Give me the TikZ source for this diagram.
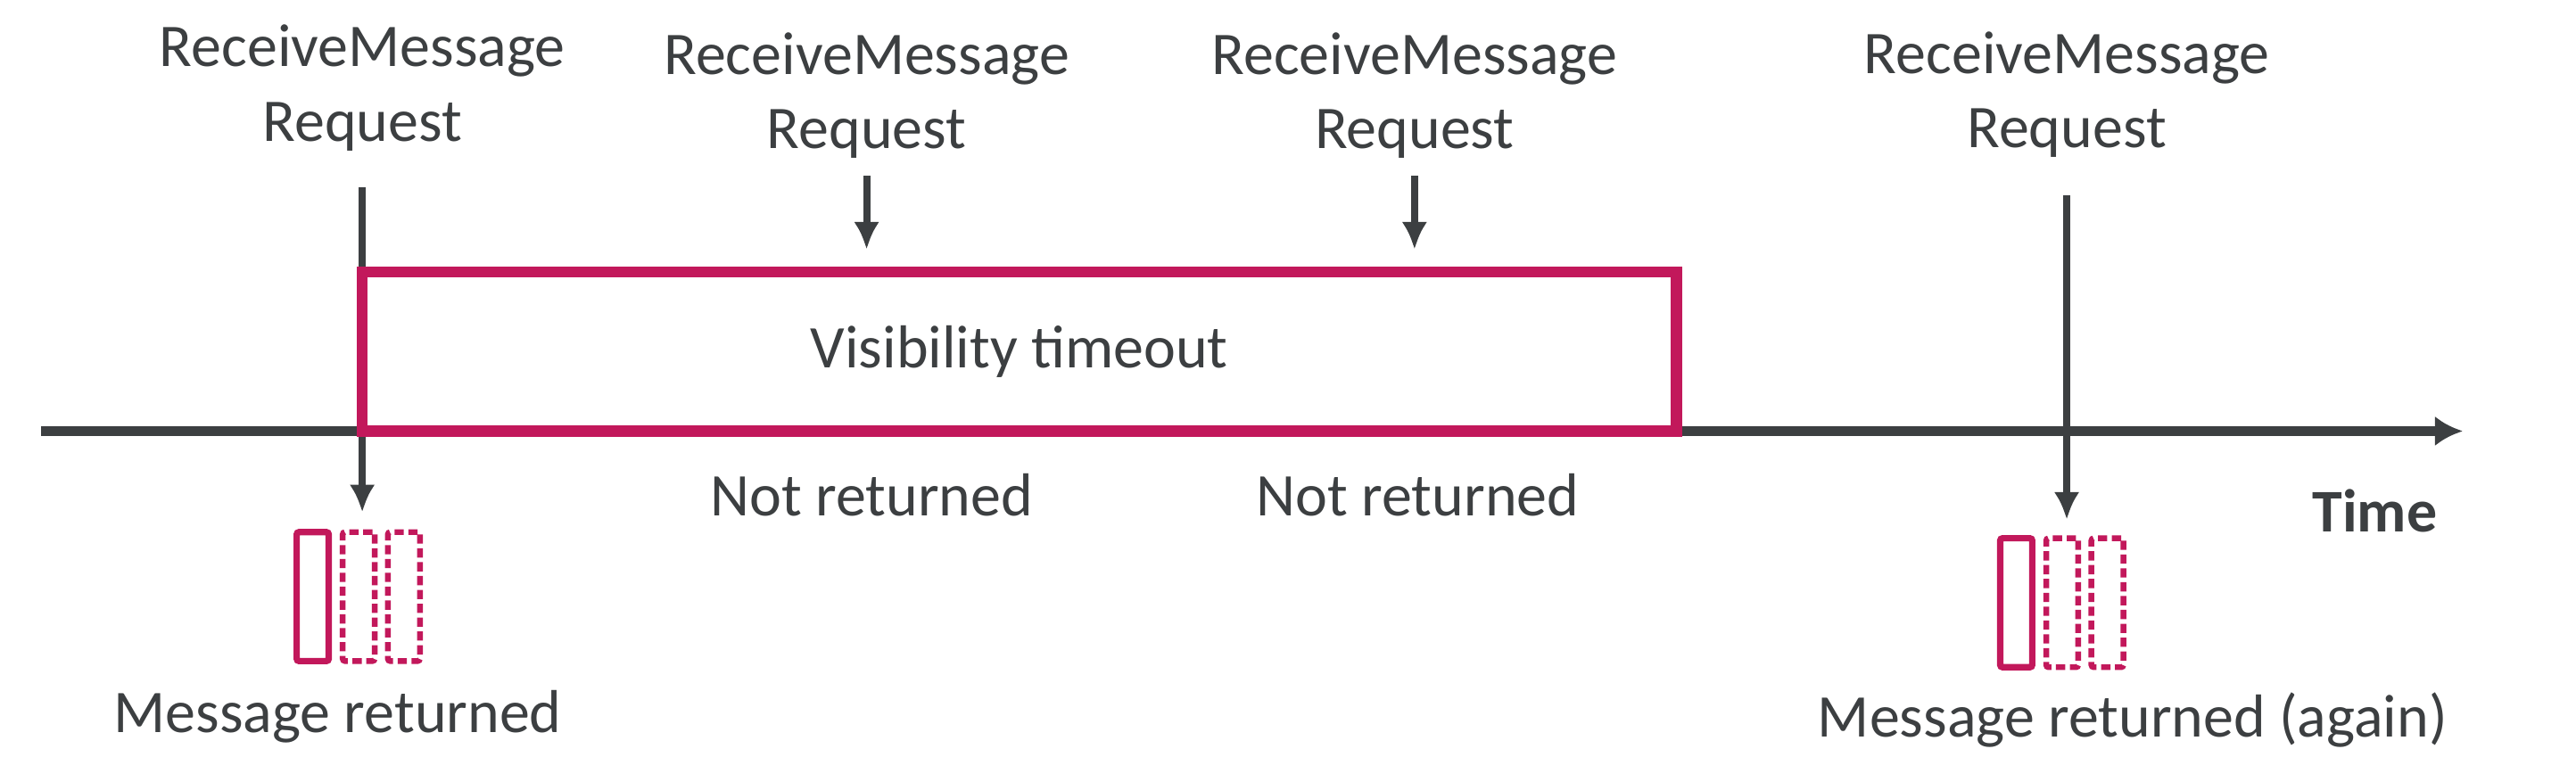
\documentclass[tikz,border=0pt]{standalone}
\usepackage{fontspec}
\setmainfont{Carlito}
\usetikzlibrary{arrows.meta, positioning}
\definecolor{darkgrey}{HTML}{3C3F41}
\definecolor{awspink}{HTML}{C2185B}

\begin{document}
\begin{tikzpicture}[>={Latex[length=4.8pt,width=4.4pt]}, font=\fontsize{10.5}{12.9}\selectfont, color=darkgrey,
    lbl/.style={align=center, inner sep=0pt, anchor=base},
    msg/.style={draw=awspink, line width=1.1pt, minimum width=0.195cm, minimum height=0.785cm, inner sep=0pt, outer sep=0pt, rounded corners=0.4pt},
    msgdash/.style={msg, line width=1pt, dash pattern=on 1.6pt off 0.8pt},
    call/.style={line width=1.25pt}]

\useasboundingbox (0,0) rectangle (15.68,4.76);

\coordinate (t-start) at (0.25,2.135);
\coordinate (t-end) at (14.99,2.135);

\begin{scope}[lbl]
    \node (req1) at (2.205,3.90) {ReceiveMessage\\Request};
    \node (req2) at (5.275,3.855) {ReceiveMessage\\Request};
    \node (req3) at (8.61,3.855) {ReceiveMessage\\Request};
    \node (req4) at (12.58,3.86) {ReceiveMessage\\Request};
\end{scope}

\node[msg] (msg1) at (1.9035,1.1275) {};
\node[msgdash, right=0.085cm of msg1] (msg1-b) {};
\node[msgdash, right=0.08cm of msg1-b] (msg1-c) {};

\node[msg] (msg4) at (12.2725,1.09) {};
\node[msgdash, right=0.085cm of msg4] (msg4-b) {};
\node[msgdash, right=0.08cm of msg4-b] (msg4-c) {};

\draw[line width=1.8pt, -{Latex[length=4.8pt,width=5.2pt]}] (t-start) -- (t-end);
\draw[call, ->, shorten <=0.216cm, shorten >=0.12cm] (req1.south) -- (req1.south |- msg1-b.north);

\node[draw=awspink, line width=1.9pt, minimum width=8cm, minimum height=0.968cm, inner sep=0pt, outer sep=0pt] (vis) at (6.205,2.619) {Visibility timeout};

\draw[call, ->, shorten <=0.1cm, shorten >=0.137cm] (req2.south) -- (req2.south |- vis.north);
\draw[call, ->, shorten <=0.1cm, shorten >=0.137cm] (req3.south) -- (req3.south |- vis.north);
\draw[call, ->, shorten <=0.222cm, shorten >=0.1125cm] (req4.south) -- (req4.south |- msg4-b.north);

\begin{scope}[anchor=base]
    \node (nr2) at (5.305,1.62) {Not returned};
    \node (nr3) at (8.63,1.62) {Not returned};
    \node[font=\fontsize{10.5}{12.9}\selectfont\bfseries] (time) at (14.455,1.52) {Time};
    \node (ret1) at (2.055,0.30) {Message returned};
    \node (ret4) at (12.98,0.27) {Message returned (again)};
\end{scope}

\end{tikzpicture}
\end{document}
